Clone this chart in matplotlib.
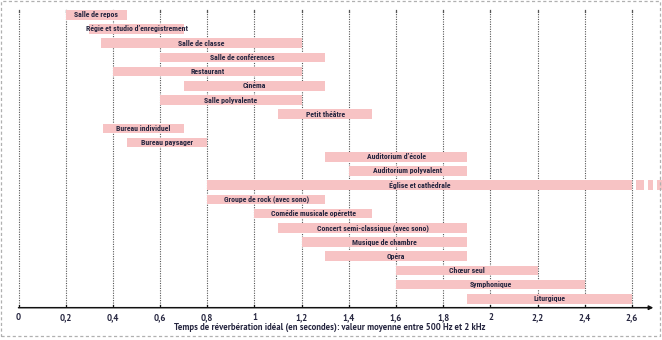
import matplotlib
matplotlib.use("Agg")
import matplotlib.pyplot as plt
from matplotlib.patches import Rectangle

# Ideal reverberation time ranges per room type (seconds)
rooms = [
    "Salle de repos", "Régie et studio d’enregistrement", "Salle de classe",
    "Salle de conférences", "Restaurant", "Cinéma", "Salle polyvalente",
    "Petit théâtre", "Bureau individuel", "Bureau paysager",
    "Auditorium d’école", "Auditorium polyvalent", "Église et cathédrale",
    "Groupe de rock (avec sono)", "Comédie musicale opérette",
    "Concert semi-classique (avec sono)", "Musique de chambre", "Opéra",
    "Chœur seul", "Symphonique", "Liturgique",
]
t_min = [0.20, 0.30, 0.35, 0.60, 0.40, 0.70, 0.60, 1.10, 0.36, 0.46,
         1.30, 1.40, 0.80, 0.80, 1.00, 1.10, 1.20, 1.30, 1.60, 1.60, 1.90]
t_max = [0.46, 0.70, 1.20, 1.30, 1.20, 1.30, 1.20, 1.50, 0.70, 0.80,
         1.90, 1.90, 2.60, 1.30, 1.50, 1.90, 1.90, 1.90, 2.20, 2.40, 2.60]
open_ended = "Église et cathédrale"

x_ticks = [0, 0.2, 0.4, 0.6, 0.8, 1.0, 1.2, 1.4, 1.6, 1.8, 2.0, 2.2, 2.4, 2.6]
x_tick_labels = ["0", "0,2", "0,4", "0,6", "0,8", "1", "1,2", "1,4", "1,6",
                 "1,8", "2", "2,2", "2,4", "2,6"]
x_label = "Temps de réverbération idéal (en secondes): valeur moyenne entre 500 Hz et 2 kHz"

LABEL_FONT = ["Roboto Condensed", "DejaVu Sans"]
AXIS_FONT = ["PT Sans", "DejaVu Sans"]
plt.rcParams["font.family"] = AXIS_FONT

TXT = "#25253f"
BAR = "#f7c3c4"
GRID = "#555555"

W, H = 662, 340
fig = plt.figure(figsize=(W / 100, H / 100), dpi=100)

# axes placed so that x=0 sits at ~18.5 px and 1 s spans ~236 px
PX_PER_S = 236
ROW = 14.2
ROW0 = 14.8
x0, x1 = -0.05, 2.72
left_px = 18.5 + x0 * PX_PER_S
width_px = (x1 - x0) * PX_PER_S
top_px, bot_px = 5, 307.7
ax = fig.add_axes([left_px / W, 1 - bot_px / H, width_px / W, (bot_px - top_px) / H])
ax.set_xlim(x0, x1)
y_axis = (bot_px - ROW0) / ROW
y_top = (top_px - ROW0) / ROW
ax.set_ylim(y_axis, y_top)
ax.axis("off")

# dotted vertical grid
grid_top = (10 - ROW0) / ROW
for xt in x_ticks:
    ax.plot([xt, xt], [y_axis, grid_top], color=GRID, lw=0.8,
            ls=(0, (1, 1.2)), zorder=1)
    ax.plot([xt, xt], [grid_top, grid_top + 0.12], color=GRID, lw=0.9, zorder=1)
    ax.plot([xt, xt], [y_axis, y_axis - 0.22], color="#111111", lw=0.9, zorder=3)

# range bars
bar_h = 0.68
for i, (name, a, b) in enumerate(zip(rooms, t_min, t_max)):
    ax.barh(i, b - a, left=a, height=bar_h, color=BAR, lw=0, zorder=2)
    ax.text((a + b) / 2, i, name, ha="center", va="center", fontsize=5.6,
            fontweight="bold", color=TXT, zorder=4, family=LABEL_FONT)
    if name == open_ended:
        for off, ln in [(0.017, 0.034), (0.068, 0.02), (0.106, 0.06)]:
            ax.barh(i, ln, left=b + off, height=bar_h, color=BAR, lw=0,
                    zorder=2, clip_on=False)

# x axis with arrow
ax.annotate("", xy=(2.69, y_axis), xytext=(0, y_axis),
            arrowprops=dict(arrowstyle="-|>", color="#111111", lw=1.1,
                            mutation_scale=6, shrinkA=0, shrinkB=0),
            zorder=3, annotation_clip=False)

for xt, lab in zip(x_ticks, x_tick_labels):
    ax.text(xt, y_axis + 0.68, lab, ha="center", va="center", fontsize=6.4,
            fontweight="bold", color=TXT, clip_on=False)

fig.text(329.5 / W, 1 - 327 / H, x_label, ha="center", va="center",
         fontsize=6.3, fontweight="bold", color=TXT)

# dashed frame around the figure
fig.patches.append(Rectangle((1 / W, 1 - 336 / H), 659 / W, 335 / H,
                             transform=fig.transFigure, fill=False,
                             ec="#b0b0b0", lw=0.9, ls=(0, (2.5, 2))))

fig.savefig("out.png", dpi=100)
